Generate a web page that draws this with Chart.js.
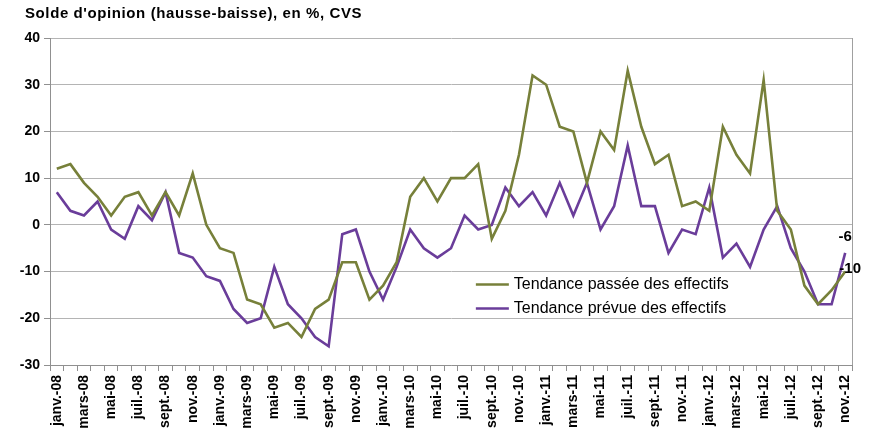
<!DOCTYPE html>
<html>
<head>
<meta charset="utf-8">
<script src="https://cdn.jsdelivr.net/npm/chart.js@4/dist/chart.umd.min.js"></script>
<style>
  html, body { margin: 0; padding: 0; background: #fff; }
  #wrap { width: 872px; height: 442px; position: relative; }
</style>
</head>
<body>
<div id="wrap"><canvas id="chart"></canvas></div>
<script>
const months = ["janv.", "févr.", "mars", "avr.", "mai", "juin", "juil.", "août", "sept.", "oct.", "nov.", "déc."];
const years = ["08", "09", "10", "11", "12"];
const labels = [];
years.forEach(y => months.forEach(m => labels.push(m + "-" + y)));
labels.length = 59; // janv.-08 .. nov.-12

const passee = [12, 13, 9, 6, 2, 6, 7, 2, 7, 2, 11, 0,
  -5, -6, -16, -17, -22, -21, -24, -18, -16, -8, -8, -16,
  -13, -8, 6, 10, 5, 10, 10, 13, -3, 3, 15, 32,
  30, 21, 20, 9, 20, 16, 33, 21, 13, 15, 4, 5,
  3, 21, 15, 11, 31, 3, -1, -13, -17, -14, -10];

const prevue = [7, 3, 2, 5, -1, -3, 4, 1, 7, -6, -7, -11,
  -12, -18, -21, -20, -9, -17, -20, -24, -26, -2, -1, -10,
  -16, -9, -1, -5, -7, -5, 2, -1, 0, 8, 4, 7,
  2, 9, 2, 9, -1, 4, 17, 4, 4, -6, -1, -2,
  8, -7, -4, -9, -1, 4, -5, -10, -17, -17, -6];

const seriesNames = ["Tendance passée des effectifs", "Tendance prévue des effectifs"];
const colors = ["#77803a", "#6a3d9a"];
const title = "Solde d'opinion (hausse-baisse), en %, CVS";
const FONT = "'Liberation Sans', Arial, sans-serif";

const extras = {
  id: "extras",
  afterDraw(chart) {
    const ctx = chart.ctx;
    const a = chart.chartArea;
    ctx.save();
    // right border
    ctx.strokeStyle = "#a0a0a0";
    ctx.lineWidth = 1;
    ctx.beginPath();
    ctx.moveTo(a.right + 0.5, a.top);
    ctx.lineTo(a.right + 0.5, a.bottom);
    ctx.stroke();

    // title
    ctx.fillStyle = "#000";
    ctx.letterSpacing = "0.6px";
    ctx.font = "bold 15px " + FONT;
    ctx.textBaseline = "middle";
    ctx.textAlign = "left";
    ctx.fillText(title, 25, 14);
    ctx.letterSpacing = "0px";

    // legend inside plot
    ctx.font = "16px " + FONT;
    const lx = a.left + (a.right - a.left) * 0.531;
    const ly0 = a.top + (a.bottom - a.top) * 0.754;
    seriesNames.forEach((name, i) => {
      const ly = ly0 + i * 24;
      ctx.strokeStyle = colors[i];
      ctx.lineWidth = 2.5;
      ctx.beginPath();
      ctx.moveTo(lx, ly);
      ctx.lineTo(lx + 33, ly);
      ctx.stroke();
      ctx.fillStyle = "#000";
      ctx.fillText(name, lx + 38, ly);
    });

    // last value labels
    ctx.font = "bold 15px " + FONT;
    ctx.textAlign = "center";
    const p1 = chart.getDatasetMeta(1).data[prevue.length - 1];
    const p0 = chart.getDatasetMeta(0).data[passee.length - 1];
    ctx.fillText(String(prevue[prevue.length - 1]), p1.x, p1.y - 16);
    ctx.fillText(String(passee[passee.length - 1]), p0.x + 5, p0.y - 3);
    ctx.restore();
  }
};

new Chart(document.getElementById("chart"), {
  type: "line",
  data: {
    labels: labels,
    datasets: [
      { label: seriesNames[0], data: passee, borderColor: colors[0], borderWidth: 2.6, pointRadius: 0, tension: 0 },
      { label: seriesNames[1], data: prevue, borderColor: colors[1], borderWidth: 2.6, pointRadius: 0, tension: 0 }
    ]
  },
  options: {
    responsive: true,
    maintainAspectRatio: false,
    animation: false,
    layout: { padding: { top: 38, right: 20, left: 0, bottom: 0 } },
    plugins: { legend: { display: false }, tooltip: { enabled: false }, title: { display: false } },
    scales: {
      x: {
        offset: true,
        grid: { display: true, drawOnChartArea: false, drawTicks: true, tickLength: 6, offset: true, color: "#909090" },
        border: { color: "#909090" },
        ticks: {
          autoSkip: false,
          minRotation: 90,
          maxRotation: 90,
          padding: 4,
          color: "#000",
          font: { family: FONT, size: 14, weight: "bold" },
          callback: (v, i) => (i % 2 === 0 ? labels[i] : "")
        },
        afterFit: s => { s.height = 77; }
      },
      y: {
        min: -30,
        max: 40,
        ticks: {
          stepSize: 10,
          padding: 4,
          color: "#000",
          font: { family: FONT, size: 14, weight: "bold" }
        },
        grid: { color: "#b4b4b4", tickColor: "#909090", tickLength: 6, lineWidth: 1 },
        border: { color: "#909090" },
        afterFit: s => { s.width = 50; }
      }
    }
  },
  plugins: [extras]
});
</script>
</body>
</html>
